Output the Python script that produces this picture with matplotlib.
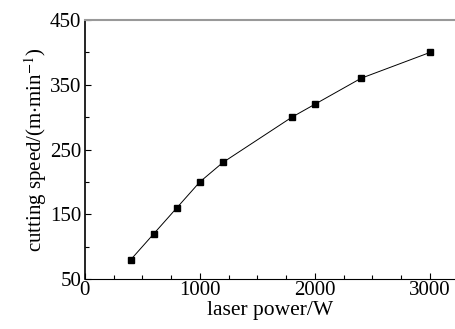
import matplotlib
matplotlib.use("Agg")
import matplotlib.pyplot as plt
from matplotlib.ticker import MultipleLocator

plt.rcParams['font.family'] = ['Liberation Serif', 'DejaVu Serif']
plt.rcParams['mathtext.fontset'] = 'stix'

# data
laser_power = [400, 600, 800, 1000, 1200, 1800, 2000, 2400, 3000]
cutting_speed = [80, 120, 160, 200, 230, 300, 320, 360, 400]

fig = plt.figure(figsize=(4.56, 3.29), dpi=100)
ax = fig.add_axes([0.186, 0.152, 0.814, 0.787])

ax.plot(laser_power, cutting_speed, color='black', lw=0.7,
        marker='s', ms=4.5, mfc='black', mec='black')

ax.set_xlim(0, 3226)
ax.set_ylim(50, 450)
ax.xaxis.set_major_locator(MultipleLocator(1000))
ax.xaxis.set_minor_locator(MultipleLocator(250))
ax.yaxis.set_minor_locator(MultipleLocator(50))
ax.set_yticks([50, 150, 250, 350, 450])

ax.tick_params(which='both', direction='in', labelsize=15, width=0.8,
               top=False, right=False)
ax.tick_params(axis='x', pad=1.5)
ax.tick_params(axis='y', pad=2.5)
ax.tick_params(which='major', length=4)
ax.tick_params(which='minor', length=3)

ax.spines['right'].set_visible(False)
ax.spines['top'].set_color('#999999')
ax.spines['top'].set_linewidth(1.5)
ax.spines['left'].set_linewidth(1.2)
ax.spines['bottom'].set_linewidth(0.8)

ax.set_xlabel('laser power/W', fontsize=15.5, labelpad=1)
ax.set_ylabel('cutting speed/(m$\\cdot$min$^{-1}$)', fontsize=15, labelpad=1)

fig.savefig('out.png', dpi=100)
